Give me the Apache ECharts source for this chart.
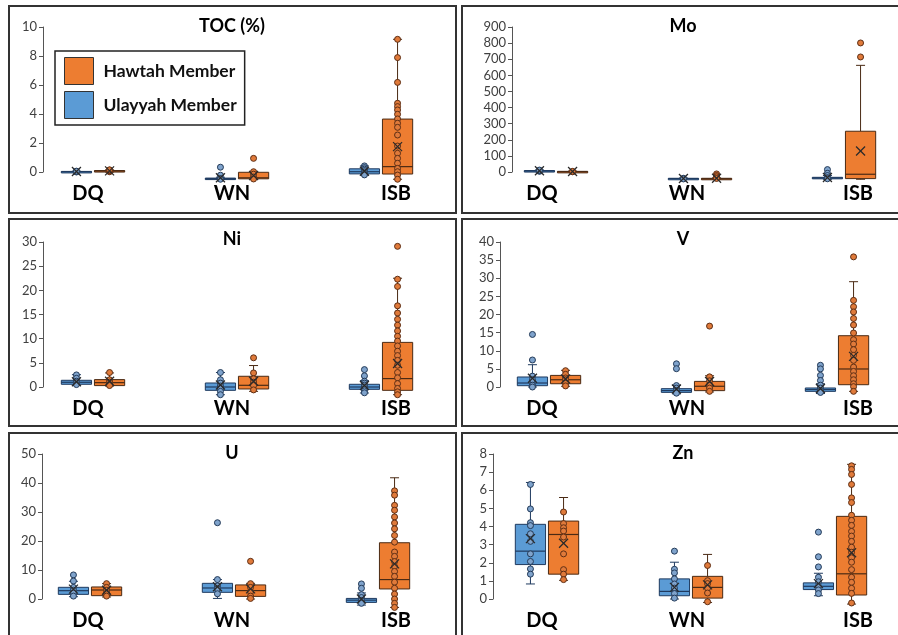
<!DOCTYPE html>
<html><head><meta charset="utf-8">
<script src="https://cdn.jsdelivr.net/npm/echarts@6/dist/echarts.min.js"></script>
<style>html,body{margin:0;padding:0;background:#fff}#c{width:898px;height:635px}</style>
</head><body><div id="c"></div>
<script>
// ---------- DATA ----------
const categories = ['DQ', 'WN', 'ISB'];
const memberNames = ['Ulayyah Member', 'Hawtah Member'];
const panelTitles = ['TOC (%)', 'Mo', 'Ni', 'V', 'U', 'Zn'];
const axisMax = [10, 900, 30, 40, 50, 8];
const axisStep = [2, 100, 5, 5, 10, 1];

// boxes: [low whisker, Q1, median, Q3, high whisker] for DQ, WN, ISB
const tocUlayyahBox = [[-0.02, 0.0, 0.02, 0.04, 0.06], [-0.52, -0.49, -0.46, -0.42, -0.36], [-0.2, -0.13, 0.02, 0.22, 0.42]];
const tocUlayyahMean = [0.03, -0.4, 0.05];
const tocUlayyahPts = [[0.0, 0.03, 0.06], [0.33, -0.22, -0.45, -0.5], [0.42, 0.3, 0.2, 0.1, 0.0, -0.1, -0.2]];
const tocHawtahBox = [[0.0, 0.04, 0.07, 0.1, 0.15], [-0.5, -0.47, -0.4, -0.02, 0.05], [-0.5, -0.14, 0.37, 3.65, 9.15]];
const tocHawtahMean = [0.08, -0.25, 1.75];
const tocHawtahPts = [[0.02, 0.07, 0.12, 0.15], [0.94, 0.02, -0.15, -0.35, -0.48],
  [9.15, 7.89, 6.18, 4.74, 4.51, 4.28, 3.98, 3.66, 3.36, 3.08, 2.55, 1.79, 1.29, 0.94, 0.6, 0.25, 0.02, -0.21, -0.5]];

const moUlayyahBox = [[2, 4, 6, 9, 13], [-45, -43, -41, -39, -37], [-45, -40, -37, -33, -22]];
const moUlayyahMean = [8, -40, -34];
const moUlayyahPts = [[4, 8, 12], [-39, -43], [15, -8, -22, -35, -42]];
const moHawtahBox = [[0, 1, 2, 4, 6], [-46, -44, -42, -39, -36], [-45, -41, -14, 253, 662]];
const moHawtahMean = [3, -39, 130];
const moHawtahPts = [[1, 4], [-12, -22, -30, -40], [801, 714]];

const niUlayyahBox = [[0.35, 0.56, 0.98, 1.39, 2.55], [-1.6, -0.69, 0.0, 0.83, 3.0], [-1.24, -0.48, 0.0, 0.56, 1.32]];
const niUlayyahMean = [1.1, 0.4, 0.3];
const niUlayyahPts = [[2.5, 1.8, 1.2, 0.9, 0.5], [3.0, 1.5, 0.8, 0.2, -0.3, -0.9, -1.6], [3.6, 2.3, 1.2, 0.8, 0.4, 0.0, -0.4, -0.8, -1.2]];
const niHawtahBox = [[0.2, 0.29, 0.9, 1.53, 2.91], [-0.9, -0.41, 0.35, 2.22, 4.44], [-1.59, -0.69, 1.74, 9.23, 22.5]];
const niHawtahMean = [1.2, 1.18, 4.86];
const niHawtahPts = [[3.0, 1.5, 1.0, 0.5, 0.3], [6.04, 2.91, 1.7, 1.0, 0.3, -0.6],
  [29.1, 22.3, 20.8, 16.8, 15.3, 14.0, 12.8, 11.6, 10.5, 9.5, 8.5, 7.4, 6.5, 5.5, 4.5, 3.0, 1.9, 0.7, -0.3, -1.0, -1.6]];

const vUlayyahBox = [[0.0, 0.36, 1.1, 2.76, 6.15], [-1.9, -1.48, -0.99, -0.46, 0.45], [-1.8, -1.2, -0.7, -0.27, 0.9]];
const vUlayyahMean = [2.4, -0.55, -0.4];
const vUlayyahPts = [[14.5, 7.45, 3.0, 2.0, 0.5, 0.0], [6.4, 5.05, 0.4, -0.3, -1.0, -1.7], [6.0, 5.0, 3.2, 1.8, 0.5, -0.3, -1.0, -1.5]];
const vHawtahBox = [[0.2, 0.9, 2.0, 3.2, 4.6], [-1.37, -1.0, 0.2, 1.55, 3.1], [-1.2, 0.63, 4.97, 14.15, 29.05]];
const vHawtahMean = [2.2, 1.5, 8.45];
const vHawtahPts = [[4.5, 3.5, 2.5, 2.0, 1.0, 0.3], [16.8, 2.8, 1.7, 0.5, -0.3, -1.2],
  [35.9, 23.9, 22.15, 20.7, 18.9, 17.1, 14.9, 13.05, 11.85, 10.3, 8.73, 7.35, 5.5, 4.3, 3.1, 2.0, 0.9, 0.1, -1.2]];

const uUlayyahBox = [[0.8, 1.6, 2.87, 4.03, 6.1], [0.2, 2.3, 3.8, 5.4, 6.7], [-2.1, -1.17, -0.4, 0.2, 2.08]];
const uUlayyahMean = [3.4, 4.2, 0.0];
const uUlayyahPts = [[8.3, 6.2, 4.0, 3.0, 2.0, 1.0], [26.3, 6.7, 4.5, 3.5, 1.8], [5.2, 3.7, 1.5, 0.5, -0.5, -1.5]];
const uHawtahBox = [[0.69, 1.15, 3.1, 4.15, 5.3], [0.0, 0.9, 2.9, 4.85, 5.4], [-2.9, 3.46, 6.7, 19.4, 41.8]];
const uHawtahMean = [3.0, 3.5, 12.1];
const uHawtahPts = [[5.3, 4.0, 3.0, 2.0, 1.0], [13.0, 5.3, 4.0, 2.5, 1.0, 0.2],
  [37.3, 35.8, 32.3, 30.6, 28.3, 26.2, 24.2, 21.9, 19.6, 16.2, 14.7, 12.9, 11.2, 9.5, 7.8, 5.8, 3.7, 1.7, 0.0, -1.5, -2.9]];

const znUlayyahBox = [[0.83, 1.9, 2.64, 4.12, 6.43], [0.0, 0.18, 0.42, 1.11, 2.03], [0.18, 0.52, 0.7, 0.89, 1.42]];
const znUlayyahMean = [3.33, 0.64, 0.85];
const znUlayyahPts = [[6.32, 4.97, 4.21, 4.05, 3.6, 3.18, 2.49, 2.07, 1.66, 1.37], [2.64, 1.64, 1.44, 1.11, 0.83, 0.6, 0.3, 0.05],
  [3.69, 2.33, 1.77, 1.2, 0.95, 0.7, 0.5, 0.3]];
const znHawtahBox = [[1.03, 1.37, 3.56, 4.3, 5.6], [-0.19, 0.05, 0.64, 1.25, 2.46], [-0.28, 0.22, 1.39, 4.56, 7.43]];
const znHawtahMean = [3.08, 0.78, 2.55];
const znHawtahPts = [[4.8, 4.16, 3.93, 3.75, 3.42, 2.49, 1.62, 1.37, 1.07], [1.85, 1.01, 0.85, 0.6, 0.33, -0.15],
  [7.35, 7.15, 6.87, 6.32, 5.58, 5.32, 4.62, 4.34, 4.06, 3.73, 3.47, 3.18, 2.86, 2.58, 2.27, 2.03, 1.62, 1.2, 0.92, 0.59, 0.31, -0.22]];

const panelSets = [
  [[tocUlayyahBox, tocUlayyahMean, tocUlayyahPts], [tocHawtahBox, tocHawtahMean, tocHawtahPts]],
  [[moUlayyahBox, moUlayyahMean, moUlayyahPts], [moHawtahBox, moHawtahMean, moHawtahPts]],
  [[niUlayyahBox, niUlayyahMean, niUlayyahPts], [niHawtahBox, niHawtahMean, niHawtahPts]],
  [[vUlayyahBox, vUlayyahMean, vUlayyahPts], [vHawtahBox, vHawtahMean, vHawtahPts]],
  [[uUlayyahBox, uUlayyahMean, uUlayyahPts], [uHawtahBox, uHawtahMean, uHawtahPts]],
  [[znUlayyahBox, znUlayyahMean, znUlayyahPts], [znHawtahBox, znHawtahMean, znHawtahPts]]
];

// ---------- LAYOUT / STYLE ----------
const FONT = 'Lato, "Open Sans", sans-serif';
const PANEL_W = 447, PANEL_H = 207;
const panelLeft = [9, 462];
const panelTop = [6, 219, 433];
const axisTopY = [27, 242, 454];
const AXIS_H = 145, EXT = 14;
const axisX = [43, 512, 43, 500, 42, 493];
const dqX = [93, 556, 93, 549, 90, 547];
const PX_PER_CAT = 144;
const labelPxCol = [[88, 232, 396], [542, 687, 858]];
const titleX = [232, 683];
const BOX_W = 0.21, OFF = 0.115, CAP = 9;
const fills = ['#5B9BD5', '#ED7D31'];
const strokes = ['#1F3A5F', '#4A2A14'];
const ptFill = ['#7FA3CC', '#E07A3A'];
const ptStroke = ['#233A58', '#5E2E14'];

function boxRender(fill, stroke) {
  return function (params, api) {
    const x = api.value(0);
    const p = [1, 2, 3, 4, 5].map(d => api.coord([x, api.value(d)]));
    const cx = p[0][0];
    const w = api.size([BOX_W, 0])[0];
    const ls = { stroke: stroke, lineWidth: 1 };
    return { type: 'group', children: [
      { type: 'line', shape: { x1: cx, y1: p[3][1], x2: cx, y2: p[4][1] }, style: ls },
      { type: 'line', shape: { x1: cx - CAP / 2, y1: p[4][1], x2: cx + CAP / 2, y2: p[4][1] }, style: ls },
      { type: 'line', shape: { x1: cx, y1: p[1][1], x2: cx, y2: p[0][1] }, style: ls },
      { type: 'line', shape: { x1: cx - CAP / 2, y1: p[0][1], x2: cx + CAP / 2, y2: p[0][1] }, style: ls },
      { type: 'rect', shape: { x: cx - w / 2, y: p[3][1], width: w, height: Math.max(p[1][1] - p[3][1], 1.5) },
        style: { fill: fill, stroke: stroke, lineWidth: 1 } },
      { type: 'line', shape: { x1: cx - w / 2, y1: p[2][1], x2: cx + w / 2, y2: p[2][1] }, style: { stroke: stroke, lineWidth: 1.2 } }
    ]};
  };
}
function meanRender(params, api) {
  const c = api.coord([api.value(0), api.value(1)]);
  const s = 4.5;
  const st = { stroke: '#2a2a2a', lineWidth: 1.3 };
  return { type: 'group', children: [
    { type: 'line', shape: { x1: c[0] - s, y1: c[1] - s, x2: c[0] + s, y2: c[1] + s }, style: st },
    { type: 'line', shape: { x1: c[0] - s, y1: c[1] + s, x2: c[0] + s, y2: c[1] - s }, style: st }
  ]};
}

const grid = [], xAxis = [], yAxis = [], series = [], title = [], frames = [];
panelTitles.forEach((name, p) => {
  const col = p % 2, row = Math.floor(p / 2);
  const pl = panelLeft[col], pt = panelTop[row];
  const left = axisX[p];
  const gw = pl + PANEL_W - 8 - left;
  const xmin = -(dqX[p] - left) / PX_PER_CAT;
  const xmax = xmin + gw / PX_PER_CAT;
  const labelVals = labelPxCol[col].map(px => (px - dqX[p]) / PX_PER_CAT);
  const ymax = axisMax[p];
  const ymin = -EXT / AXIS_H * ymax;
  const gData = 2 * p, gAxis = 2 * p + 1;

  frames.push({ type: 'rect', shape: { x: pl, y: pt, width: PANEL_W, height: PANEL_H },
    style: { fill: 'none', stroke: '#333', lineWidth: 2 }, silent: true, z: 0 });
  title.push({ text: name, left: titleX[col], top: pt + 11, textAlign: 'center', padding: 0,
    textStyle: { fontFamily: FONT, fontWeight: 'bold', fontSize: 18, color: '#000' } });

  grid.push({ left: left, top: axisTopY[row], width: gw, height: AXIS_H + EXT, outerBoundsMode: 'none', containLabel: false });
  grid.push({ left: left, top: axisTopY[row], width: gw, height: AXIS_H, outerBoundsMode: 'none', containLabel: false });

  xAxis.push({ type: 'value', gridIndex: gData, min: xmin, max: xmax, show: false });
  xAxis.push({ type: 'value', gridIndex: gAxis, min: xmin, max: xmax,
    axisLine: { show: false, onZero: false }, axisTick: { show: false }, splitLine: { show: false },
    axisLabel: { customValues: labelVals, margin: 12, fontFamily: FONT, fontWeight: 'bold', fontSize: 20, color: '#000',
      formatter: v => { const i = labelVals.findIndex(l => Math.abs(l - v) < 1e-6); return i >= 0 ? categories[i] : ''; } } });
  yAxis.push({ type: 'value', gridIndex: gData, min: ymin, max: ymax, show: false });
  yAxis.push({ type: 'value', gridIndex: gAxis, min: 0, max: ymax, interval: axisStep[p],
    axisLine: { show: true, onZero: false, lineStyle: { color: '#555', width: 1 } },
    axisTick: { show: true, length: 4, lineStyle: { color: '#555' } },
    splitLine: { show: false },
    axisLabel: { margin: 6, fontFamily: FONT, fontSize: 13, color: '#404040' } });

  const sets = panelSets[p];
  const offs = [-OFF, OFF];
  [0, 1].forEach(m => {
    const boxes = sets[m][0];
    series.push({ type: 'custom', name: memberNames[m], xAxisIndex: gData, yAxisIndex: gData,
      renderItem: boxRender(fills[m], strokes[m]), itemStyle: { color: fills[m] },
      dimensions: ['x', 'lo', 'q1', 'med', 'q3', 'hi'], encode: { x: 0, y: [1, 2, 3, 4, 5] },
      data: boxes.map((b, i) => [i + offs[m]].concat(b)), z: 2 });
  });
  [0, 1].forEach(m => {
    const pts = sets[m][2];
    const data = [];
    pts.forEach((arr, i) => arr.forEach(v => data.push([i + offs[m], v])));
    series.push({ type: 'scatter', name: memberNames[m] + ' samples', xAxisIndex: gData, yAxisIndex: gData,
      symbol: 'circle', symbolSize: 6, data: data, z: 3,
      itemStyle: { color: ptFill[m], borderColor: ptStroke[m], borderWidth: 1, opacity: 1 } });
  });
  [0, 1].forEach(m => {
    const means = sets[m][1];
    series.push({ type: 'custom', name: memberNames[m] + ' mean', xAxisIndex: gData, yAxisIndex: gData,
      renderItem: meanRender, dimensions: ['x', 'mean'], encode: { x: 0, y: 1 },
      data: means.map((v, i) => [i + offs[m], v]), z: 4 });
  });
});

const chart = echarts.init(document.getElementById('c'), null, { renderer: 'canvas' });
chart.setOption({
  animation: false,
  backgroundColor: '#fff',
  title: title,
  grid: grid, xAxis: xAxis, yAxis: yAxis,
  legend: {
    orient: 'vertical', left: 55, top: 51, padding: [6, 8, 6, 9],
    itemWidth: 29, itemHeight: 27, itemGap: 6,
    borderColor: '#222', borderWidth: 1.5, backgroundColor: '#fff',
    selectedMode: false, z: 10,
    textStyle: { fontFamily: FONT, fontWeight: 'bold', fontSize: 17.5, color: '#111', padding: [0, 0, 0, 5] },
    data: [
      { name: 'Hawtah Member', icon: 'rect', itemStyle: { color: fills[1], borderColor: '#333', borderWidth: 1 } },
      { name: 'Ulayyah Member', icon: 'rect', itemStyle: { color: fills[0], borderColor: '#333', borderWidth: 1 } }
    ]
  },
  graphic: { elements: frames },
  series: series
});
</script></body></html>
